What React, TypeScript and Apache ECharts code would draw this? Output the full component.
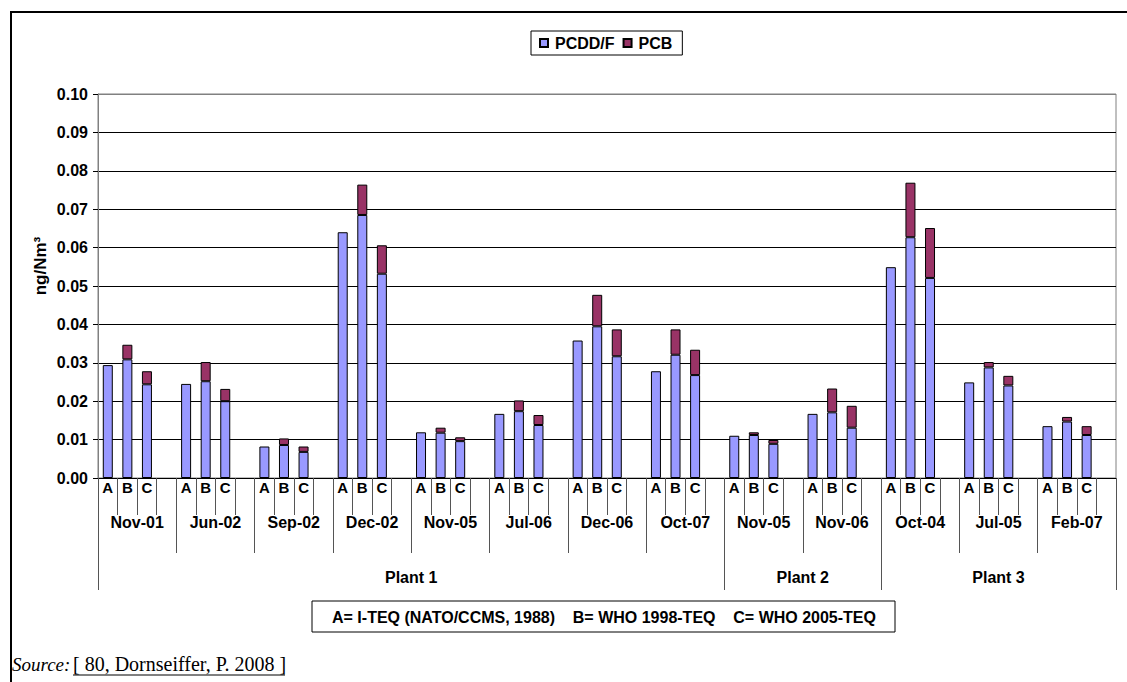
import React, { useEffect, useRef } from 'react';
import * as echarts from 'echarts';

// ---- Data ----
const dates = ['Nov-01', 'Jun-02', 'Sep-02', 'Dec-02', 'Nov-05', 'Jul-06', 'Dec-06', 'Oct-07', 'Nov-05', 'Nov-06', 'Oct-04', 'Jul-05', 'Feb-07'];
const plants = ['Plant 1', 'Plant 2', 'Plant 3'];
const datesPerPlant = [8, 2, 3];
const methods = ['A', 'B', 'C'];

// PCDD/F (ng/Nm3) for method A, B, C at each sampling date
const pcddA = [0.0294, 0.0245, 0.0082, 0.0640, 0.0119, 0.0167, 0.0358, 0.0278, 0.0110, 0.0167, 0.0549, 0.0249, 0.0135];
const pcddB = [0.0309, 0.0252, 0.0086, 0.0685, 0.0118, 0.0174, 0.0395, 0.0321, 0.0112, 0.0171, 0.0627, 0.0288, 0.0147];
const pcddC = [0.0244, 0.0200, 0.0068, 0.0532, 0.0096, 0.0138, 0.0317, 0.0268, 0.0089, 0.0131, 0.0521, 0.0241, 0.0112];
// PCB (ng/Nm3) stacked on top for method B and C
const pcbB = [0.0038, 0.0050, 0.0017, 0.0079, 0.0013, 0.0028, 0.0082, 0.0066, 0.0007, 0.0062, 0.0142, 0.0014, 0.0012];
const pcbC = [0.0034, 0.0032, 0.0014, 0.0074, 0.0010, 0.0026, 0.0070, 0.0066, 0.0010, 0.0057, 0.0130, 0.0025, 0.0023];

const yMin = 0;
const yMax = 0.1;
const yStep = 0.01;

const yName = 'ng/Nm³';
const methodNote = 'A= I-TEQ (NATO/CCMS, 1988)    B= WHO 1998-TEQ    C= WHO 2005-TEQ';
const sourceLabel = 'Source:';
const sourceRef = '[ 80, Dornseiffer, P. 2008 ]';

// ---- Derived slot arrays (A, B, C, gap per date) ----
const slotKeys: string[] = [];
const pcddSlots: (number | null)[] = [];
const pcbSlots: (number | null)[] = [];
dates.forEach((_, i) => {
  methods.forEach((m) => slotKeys.push(m + '|' + i));
  slotKeys.push('|' + i);
  pcddSlots.push(pcddA[i], pcddB[i], pcddC[i], null);
  pcbSlots.push(null, pcbB[i], pcbC[i], null);
});
const slotsPerDate = methods.length + 1;
const totalSlots = slotKeys.length;
const plantBounds: number[] = [0];
datesPerPlant.forEach((n) => plantBounds.push(plantBounds[plantBounds.length - 1] + n * slotsPerDate));
const plantCenters = plants.map((_, i) => (plantBounds[i] + plantBounds[i + 1]) / 2);

const FONT = 'Arial, "Liberation Sans", Helvetica, sans-serif';
const SERIF = '"Times New Roman", "Liberation Serif", serif';

export default function App() {
  const ref = useRef<HTMLDivElement>(null);
  useEffect(() => {
    if (!ref.current) return;
    const chart = echarts.init(ref.current, undefined, { renderer: 'svg' });
    const gridColors: string[] = [];
    const nLines = Math.round((yMax - yMin) / yStep) + 1;
    for (let i = 0; i < nLines; i++) gridColors.push(i === nLines - 1 ? '#808080' : '#000');

    chart.setOption({
      animation: false,
      backgroundColor: '#fff',
      textStyle: { fontFamily: FONT },
      legend: {
        data: ['PCDD/F', 'PCB'],
        left: 531,
        top: 31,
        icon: 'rect',
        itemWidth: 8,
        itemHeight: 8,
        itemGap: 8,
        padding: [4, 10, 4, 8],
        borderColor: '#000',
        borderWidth: 1,
        textStyle: { fontFamily: FONT, fontWeight: 'bold', fontSize: 16, color: '#000', padding: [0, 0, 0, 2] },
      },
      grid: {
        left: 98,
        right: 11,
        top: 94,
        bottom: 204,
        show: true,
        borderColor: '#808080',
        borderWidth: 1,
        backgroundColor: 'transparent',
      },
      xAxis: [
        {
          type: 'category',
          position: 'bottom',
          data: slotKeys,
          axisLine: { show: true, lineStyle: { color: '#000', width: 1 } },
          axisTick: { show: true, interval: 0, length: 37, lineStyle: { color: '#555' } },
          axisLabel: {
            interval: 0,
            margin: 2,
            fontFamily: FONT,
            fontWeight: 'bold',
            fontSize: 15,
            color: '#000',
            formatter: (v: string) => v.split('|')[0],
          },
          splitLine: { show: false },
        },
        {
          type: 'category',
          position: 'bottom',
          data: dates.map((d, i) => d + '|' + i),
          axisLine: { show: false },
          axisTick: { show: true, interval: 0, length: 75, lineStyle: { color: '#555' } },
          axisLabel: {
            interval: 0,
            margin: 36,
            fontFamily: FONT,
            fontWeight: 'bold',
            fontSize: 16,
            color: '#000',
            formatter: (v: string) => v.split('|')[0],
          },
          splitLine: { show: false },
        },
        {
          type: 'value',
          position: 'bottom',
          min: 0,
          max: totalSlots,
          axisLine: { show: false },
          axisTick: { show: true, customValues: plantBounds, length: 112, lineStyle: { color: '#555' } },
          axisLabel: {
            customValues: plantCenters,
            margin: 91,
            fontFamily: FONT,
            fontWeight: 'bold',
            fontSize: 16,
            color: '#000',
            formatter: (v: number) => {
              const idx = plantCenters.findIndex((c) => Math.abs(c - v) < 1e-6);
              return idx >= 0 ? plants[idx] : '';
            },
          },
          splitLine: { show: false },
        },
      ],
      yAxis: {
        type: 'value',
        min: yMin,
        max: yMax,
        interval: yStep,
        axisLine: { show: true, lineStyle: { color: '#808080' } },
        axisTick: { show: true, length: 5, lineStyle: { color: '#000' } },
        axisLabel: {
          margin: 10,
          fontFamily: FONT,
          fontWeight: 'bold',
          fontSize: 16,
          color: '#000',
          formatter: (v: number) => v.toFixed(2),
        },
        splitLine: { show: true, lineStyle: { color: gridColors, width: 1 } },
      },
      series: [
        {
          name: 'PCDD/F',
          type: 'bar',
          stack: 'total',
          xAxisIndex: 0,
          data: pcddSlots,
          barWidth: 10,
          itemStyle: { color: '#9999FF', borderColor: '#000', borderWidth: 1 },
        },
        {
          name: 'PCB',
          type: 'bar',
          stack: 'total',
          xAxisIndex: 0,
          data: pcbSlots,
          barWidth: 10,
          itemStyle: { color: '#993366', borderColor: '#000', borderWidth: 1 },
        },
      ],
      graphic: [
        {
          type: 'rect',
          silent: true,
          shape: { x: 11, y: 12, width: 1300, height: 900 },
          style: { fill: 'none', stroke: '#000', lineWidth: 2 },
        },
        {
          type: 'text',
          silent: true,
          x: 40,
          y: 266,
          rotation: Math.PI / 2,
          style: {
            text: yName,
            fontFamily: FONT,
            fontWeight: 'bold',
            fontSize: 17,
            fill: '#000',
            align: 'center',
            verticalAlign: 'middle',
          },
        },
        {
          type: 'rect',
          silent: true,
          shape: { x: 312, y: 601, width: 583, height: 31 },
          style: { fill: '#fff', stroke: '#000', lineWidth: 1 },
        },
        {
          type: 'text',
          silent: true,
          x: 604,
          y: 617,
          style: {
            text: methodNote,
            fontFamily: FONT,
            fontWeight: 'bold',
            fontSize: 16,
            fill: '#000',
            align: 'center',
            verticalAlign: 'middle',
          },
        },
        {
          type: 'text',
          silent: true,
          x: 12,
          y: 664,
          style: {
            text: sourceLabel,
            fontFamily: SERIF,
            fontStyle: 'italic',
            fontSize: 19,
            fill: '#000',
            align: 'left',
            verticalAlign: 'middle',
          },
        },
        {
          type: 'text',
          silent: true,
          x: 73,
          y: 664,
          style: {
            text: sourceRef,
            fontFamily: SERIF,
            fontSize: 20,
            fill: '#000',
            align: 'left',
            verticalAlign: 'middle',
          },
        },
        {
          type: 'line',
          silent: true,
          shape: { x1: 73, y1: 675, x2: 285, y2: 675 },
          style: { stroke: '#000', lineWidth: 1 },
        },
      ],
    });
    return () => chart.dispose();
  }, []);

  return (
    <div
      ref={ref}
      style={{ position: 'absolute', left: 0, top: 0, width: 1127, height: 682 }}
    />
  );
}
